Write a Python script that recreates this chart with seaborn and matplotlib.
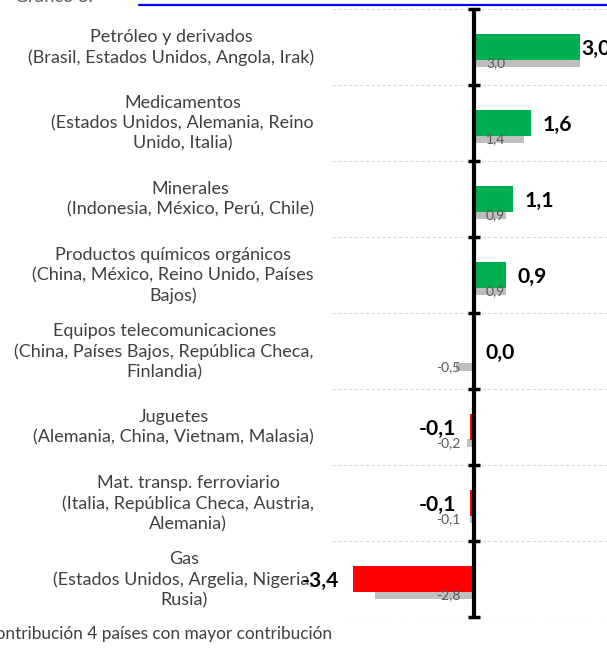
import matplotlib
matplotlib.use("Agg")
import matplotlib.pyplot as plt
import matplotlib.transforms as mtransforms
from matplotlib.lines import Line2D
import seaborn as sns
import pandas as pd
import numpy as np

# ---------------- data ----------------
categorias = [
    "Petróleo y derivados\n(Brasil, Estados Unidos, Angola, Irak)",
    "Medicamentos\n(Estados Unidos, Alemania, Reino\nUnido, Italia)",
    "Minerales\n(Indonesia, México, Perú, Chile)",
    "Productos químicos orgánicos\n(China, México, Reino Unido, Países\nBajos)",
    "Equipos telecomunicaciones\n(China, Países Bajos, República Checa,\nFinlandia)",
    "Juguetes\n(Alemania, China, Vietnam, Malasia)",
    "Mat. transp. ferroviario\n(Italia, República Checa, Austria,\nAlemania)",
    "Gas\n(Estados Unidos, Argelia, Nigeria,\nRusia)",
]
contribucion_total = [3.0, 1.6, 1.1, 0.9, 0.0, -0.1, -0.1, -3.4]
contribucion_4_paises = [3.0, 1.4, 0.9, 0.9, -0.5, -0.2, -0.1, -2.8]
leyenda_texto = "Contribución 4 países con mayor contribución"
titulo_texto = "Gráfico 3:"

# ---------------- style ----------------
sns.set_theme(style="white")
FONT = ["Lato", "DejaVu Sans"]
plt.rcParams["font.family"] = FONT

W, H = 607, 657
fig = plt.figure(figsize=(W / 100, H / 100), dpi=100)
ax = fig.add_axes([332 / W, 1 - 617 / H, 1 - 332 / W, (617 - 9) / H])

df = pd.DataFrame({"categoria": categorias,
                   "total": contribucion_total,
                   "cuatro": contribucion_4_paises})
n = len(df)
colores = ["#00B050" if v >= 0 else "#FF0000" for v in df["total"]]

sns.barplot(data=df, x="total", y="categoria", hue="categoria",
            palette=colores, legend=False, orient="h", width=0.34,
            saturation=1, ax=ax, zorder=3, linewidth=0, edgecolor="none")

pos = np.arange(n)
ax.barh(pos + 0.215, df["cuatro"], height=0.105, color="#BFBFBF",
        zorder=2, linewidth=0)

ax.set_xlim(-4.0, 3.75)
ax.set_ylim(n - 0.5, -0.5)

# gridlines between categories
bounds = np.arange(n + 1) - 0.5
ax.hlines(bounds, -4.0, 3.75, colors="#D9D9D9", linewidth=0.8,
          linestyles=(0, (3, 2)), zorder=1)
# zero axis with tick marks
ax.axvline(0, color="black", lw=3, zorder=5)
ax.plot(np.zeros(n + 1), bounds, ls="none", marker="_", ms=9, mew=2.5,
        color="black", clip_on=False, zorder=5)

for s in ax.spines.values():
    s.set_visible(False)
ax.set_xticks([])
ax.set_xlabel("")
ax.set_ylabel("")
ax.tick_params(axis="y", length=0, pad=13, labelsize=13,
               labelcolor="#404040")
shift_up = mtransforms.ScaledTranslation(0, 3 / 100, fig.dpi_scale_trans)
for lbl in ax.get_yticklabels():
    lbl.set_multialignment("center")
    lbl.set_linespacing(1.32)
    lbl.set_transform(lbl.get_transform() + shift_up)

# value labels (bold)
def fmt(v):
    return f"{v:.1f}".replace(".", ",")

for i, v in enumerate(df["total"]):
    if v >= 0:
        x = min(v + 0.34, 3.03)
        ha = "left"
    else:
        x = v - 0.4
        ha = "right"
    ax.text(x, i + 0.03, fmt(v), ha=ha, va="center", fontsize=15.2,
            fontweight="bold", color="black", zorder=6, clip_on=False)

for i, v in enumerate(df["cuatro"]):
    if v >= 0:
        x, ha = 0.34, "left"
    else:
        x, ha = -0.39, "right"
    ax.text(x, i + 0.215, fmt(v), ha=ha, va="center", fontsize=10,
            color="#595959", zorder=6)

# bottom legend text (cut at the left edge like the reference)
fig.text(-16.5 / W, 1 - 634 / H, leyenda_texto, ha="left", va="center",
         fontsize=12.45, color="#404040")
# top title fragments (cut at top)
fig.text(15 / W, 1 - 1.5 / H, titulo_texto, ha="left", va="baseline",
         fontsize=13, color="#595959")
fig.add_artist(Line2D([139 / W, 1.0], [1 - 4.7 / H] * 2, color="#0000FF",
                      lw=1.6, transform=fig.transFigure))

fig.savefig("out.png", dpi=100)
